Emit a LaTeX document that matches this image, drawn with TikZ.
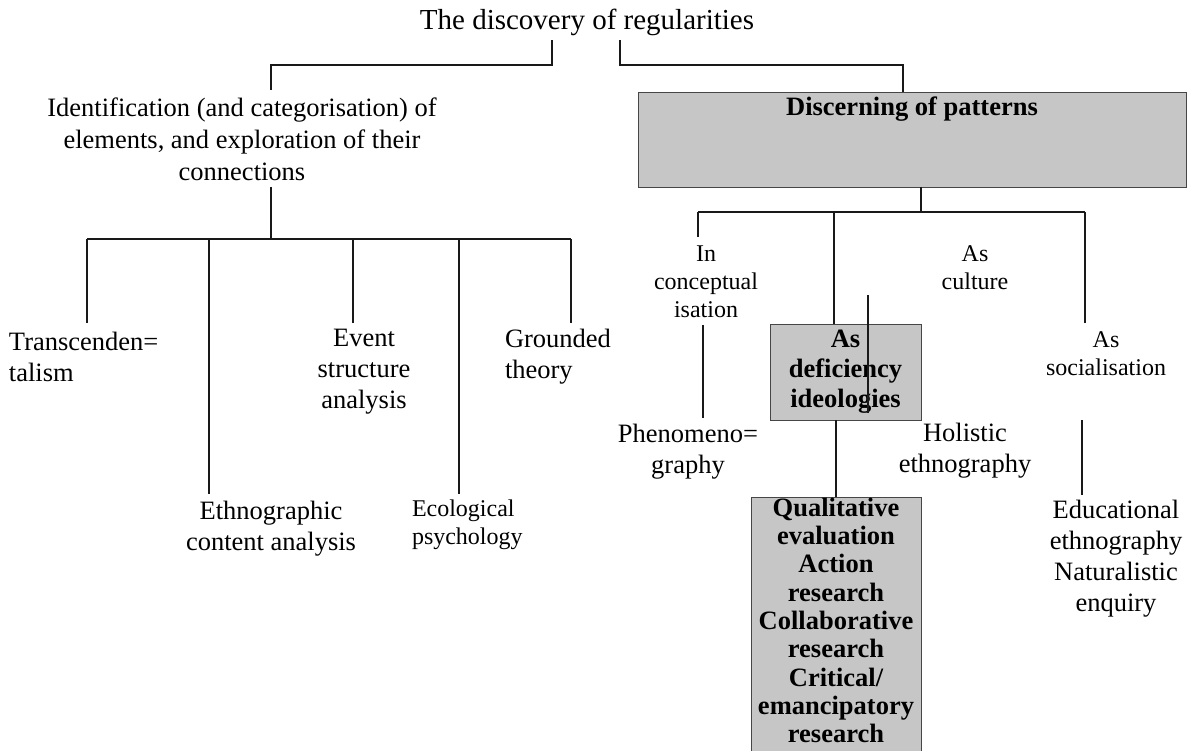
\documentclass[tikz,border=0pt]{standalone}
\usepackage{fontspec}
\setmainfont{Liberation Serif}
\definecolor{boxfill}{RGB}{198,198,198}
\definecolor{boxedge}{RGB}{70,70,70}
\definecolor{linecol}{RGB}{25,25,25}
\begin{document}
\begin{tikzpicture}[x=1pt,y=-1pt,
  every node/.style={inner sep=0pt, outer sep=0pt},
  lbl/.style={align=center, font=\fontsize{26.5}{31}\selectfont},
  lblleft/.style={align=left, font=\fontsize{26.5}{31}\selectfont},
  lblsmall/.style={align=center, font=\fontsize{24}{28}\selectfont},
  boldlbl/.style={align=center, font=\fontsize{26.5}{30}\selectfont\bfseries},
  greybox/.style={draw=boxedge, fill=boxfill, line width=1pt},
  conn/.style={draw=linecol, line width=1.3pt}]
\useasboundingbox[fill=white] (0,0) rectangle (1197,750);

% ---------- top level ----------
\node[font=\fontsize{29}{33}\selectfont] (title) at (587,22) {The discovery of regularities};

% ---------- left branch ----------
\node[lbl, font=\fontsize{26.5}{32}\selectfont] (ident) at (242,139)
  {Identification (and categorisation) of\\ elements, and exploration of their\\ connections};
\node[lblleft, anchor=west] (trans) at (9,357) {Transcenden=\\ talism};
\node[lbl] (event) at (364,372) {Event\\ structure\\ analysis};
\node[lblleft, anchor=west] (grounded) at (505,357) {Grounded\\ theory};
\node[lbl] (ethno) at (271,529) {Ethnographic\\ content analysis};
\node[lblsmall, align=left, anchor=west] (ecol) at (412,525) {Ecological\\ psychology};

% ---------- right branch ----------
\node[greybox, minimum width=548pt, minimum height=95pt, anchor=north west] (discern) at (638,92) {};
\node[boldlbl] (discerntxt) at (912,109) {Discerning of patterns};

\node[lblsmall] (concept) at (706,282) {In\\ conceptual\\ isation};
\node[lblsmall] (culture) at (975,268) {As\\ culture};
\node[lblsmall] (social) at (1106,354) {As\\ socialisation};

\node[greybox, boldlbl, minimum width=151pt, minimum height=96pt] (defic) at (845.5,372)
  {As\\ deficiency\\ ideologies};

\node[lbl] (phen) at (688,452) {Phenomeno=\\ graphy};
\node[lbl] (holistic) at (965,451) {Holistic\\ ethnography};
\node[lbl] (educ) at (1116,559) {Educational\\ ethnography\\ Naturalistic\\ enquiry};

\node[greybox, minimum width=170pt, minimum height=260pt, anchor=north] (qual) at (836,497) {};
\node[boldlbl, font=\fontsize{26.5}{28.3}\selectfont\bfseries, anchor=north] (qualtxt) at (836,498)
  {Qualitative\\ evaluation\\ Action\\ research\\ Collaborative\\ research\\ Critical/\\ emancipatory\\ research};

% ---------- junction points ----------
\coordinate (tl0) at (552,40);
\coordinate (tl1) at (271,90);
\coordinate (tr0) at (620,40);
\coordinate (ib) at (271,187);
\coordinate (lbar) at (271,239);
\coordinate (lb1) at (87,239);   \coordinate (le1) at (87,323);
\coordinate (lb2) at (209,239);  \coordinate (le2) at (209,494);
\coordinate (lb3) at (353,239);  \coordinate (le3) at (353,323);
\coordinate (lb4) at (459,239);  \coordinate (le4) at (459,494);
\coordinate (lb5) at (571,239);  \coordinate (le5) at (571,323);
\coordinate (rbar) at (921,212);
\coordinate (rb1) at (698,212);  \coordinate (re1) at (698,237);
\coordinate (rb2) at (834,212);
\coordinate (rb3) at (1085,212); \coordinate (re3) at (1085,323);
\coordinate (ph0) at (703,325);  \coordinate (ph1) at (703,418);
\coordinate (hc0) at (868,295);  \coordinate (hc1) at (868,413);
\coordinate (ed0) at (1082,420); \coordinate (ed1) at (1082,495);

% ---------- connectors ----------
\draw[conn] (tl0) -- ++(0,25) -| (tl1);
\draw[conn] (tr0) -- ++(0,25) -| ([xshift=-9pt]discern.north);

\draw[conn] (ib) -- (lbar);
\draw[conn] (lb1) -- (lb5);
\draw[conn] (lb1) -- (le1);
\draw[conn] (lb2) -- (le2);
\draw[conn] (lb3) -- (le3);
\draw[conn] (lb4) -- (le4);
\draw[conn] (lb5) -- (le5);

\draw[conn] ([xshift=9pt]discern.south) -- (rbar);
\draw[conn] (rb1) -- (rb3);
\draw[conn] (rb1) -- (re1);
\draw[conn] (rb2) -- (rb2 |- defic.north);
\draw[conn] (rb3) -- (re3);
\draw[conn] (ph0) -- (ph1);
\draw[conn] (defic.south -| qual.north) -- (qual.north);
\draw[conn] (ed0) -- (ed1);
\draw[conn] (hc0) -- (hc1);
\end{tikzpicture}
\end{document}
